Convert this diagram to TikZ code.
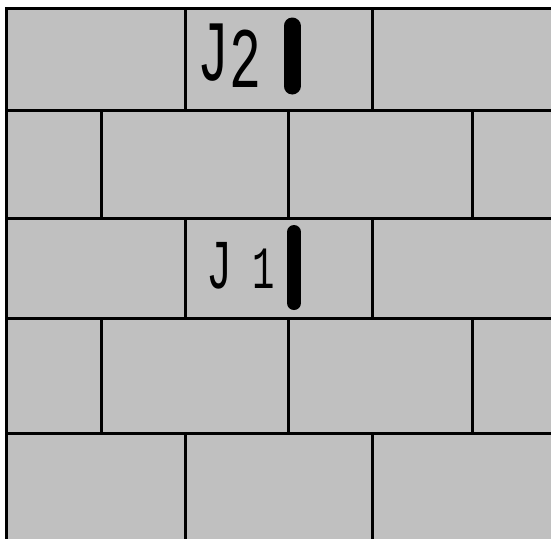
\documentclass[tikz,border=0pt]{standalone}
\usepackage{fontspec}
\setmainfont{Liberation Mono}
\usetikzlibrary{positioning}
\definecolor{wallgrey}{RGB}{192, 192, 192}

\begin{document}
\begin{tikzpicture}[x=1pt, y=-1pt,
    joint/.style={line width=3pt, black},
    marker/.style={line width=#1, line cap=round, black},
    tag/.style={inner sep=0pt, anchor=base west, xscale=0.62}]
        % canvas and wall
        \useasboundingbox (0,0) rectangle (551,539);
        \fill[white] (0,0) rectangle (551,539);
        \fill[wallgrey] (6.5,8.5) rectangle (551,539);

        % bed joints
        \foreach \y in {8.5,110,218,318,433}
            \draw[joint] (5,\y) -- (551,\y);
        \draw[joint] (6.5,7) -- (6.5,539);

        % head joints, courses 1, 3, 5
        \foreach \ya/\yb in {8.5/110, 218/318, 433/539} {
            \draw[joint] (185,\ya) -- (185,\yb);
            \draw[joint] (372,\ya) -- (372,\yb);
        }
        % head joints, courses 2, 4 (offset)
        \foreach \ya/\yb in {110/218, 318/433}
            \foreach \x in {101,288,472}
                \draw[joint] (\x,\ya) -- (\x,\yb);

        % joints J2 and J1
        \draw[marker=17pt] (292,26) -- (292,86);
        \node[tag, font=\fontsize{86}{86}\selectfont] (jtwo) at (197,80) {J\raisebox{-7pt}{2}};

        \draw[marker=14pt] (294,232) -- (294,303);
        \node[tag, font=\fontsize{70}{70}\selectfont] (jone) at (206,288) {J\hspace{33pt}{\fontsize{60}{60}\selectfont 1}};
\end{tikzpicture}
\end{document}
